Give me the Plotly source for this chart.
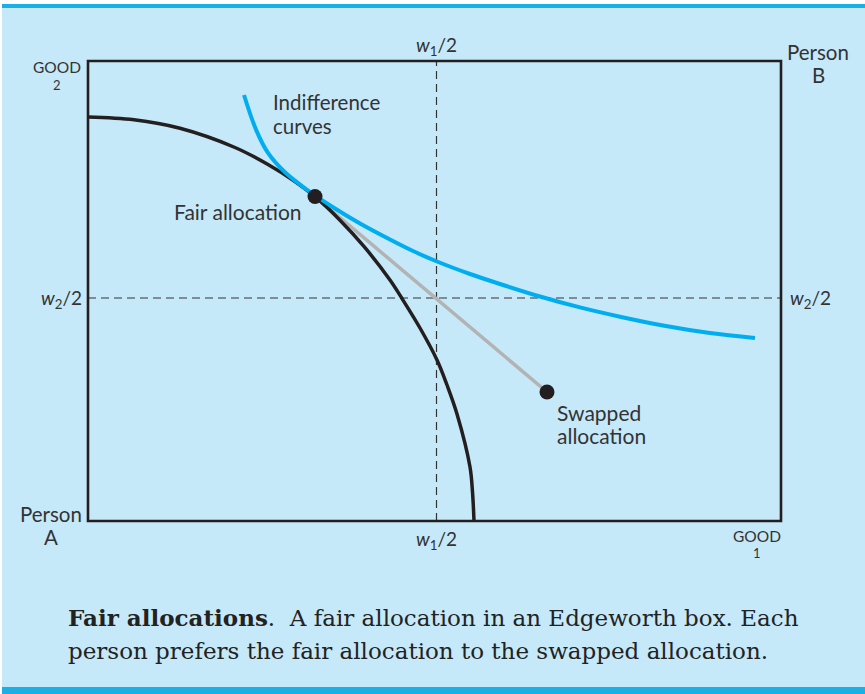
import plotly.graph_objects as go

# Box geometry in pixel-like data units (x: 0..693, y: 0..460)
box_w = 693
box_h = 460

# Person A's curve (black)
black_x = [0, 46, 92, 147, 180, 207, 227, 252, 277, 302, 314, 332, 349, 359, 369, 382, 384.5, 386]
black_y = [404, 401.2, 392.7, 373.5, 356.5, 339.5, 324.3, 300.8, 273.3, 241, 222.5, 193, 161, 136, 107, 54, 29, 0]

# Indifference curve (blue)
blue_x = [156, 168, 180, 197, 218, 247, 272, 302, 325, 349, 382, 412, 452, 492, 532, 575, 622, 667]
blue_y = [426, 391.4, 368.1, 348.7, 332, 312.5, 297.5, 281.5, 270.0, 259.5, 247, 237, 224.5,
          213.6, 204.3, 195.5, 188, 183]

# Allocations
fair = (227, 324.5)
swapped = (459, 129)

# Half endowments
w1_half = 348.5
w2_half = 223

BG = "#c6e9f9"
INK = "#231f20"
BLUE = "#00aeef"
TEXT = "#333333"
SANS = "Lato"

L, T = 88, 61
W, H = 865, 694


def px(xp):
    return (xp - L) / box_w


def py(yp):
    return (T + box_h - yp) / box_h


fig = go.Figure()

# dashed half-endowment lines
fig.add_trace(go.Scatter(x=[w1_half, w1_half], y=[0, box_h], mode="lines",
                         line=dict(color=TEXT, width=1.2, dash="8px,5px"), hoverinfo="skip"))
fig.add_trace(go.Scatter(x=[0, box_w], y=[w2_half, w2_half], mode="lines",
                         line=dict(color=TEXT, width=1.2, dash="8px,5px"), hoverinfo="skip"))
# gray line between allocations
fig.add_trace(go.Scatter(x=[fair[0], swapped[0]], y=[fair[1], swapped[1]], mode="lines",
                         line=dict(color="#b3b3b3", width=3.5), hoverinfo="skip"))
# curves
fig.add_trace(go.Scatter(x=black_x, y=black_y, mode="lines", line_shape="spline",
                         line=dict(color=INK, width=3.5, smoothing=1.0), hoverinfo="skip"))
fig.add_trace(go.Scatter(x=blue_x, y=blue_y, mode="lines", line_shape="spline",
                         line=dict(color=BLUE, width=4, smoothing=1.0), hoverinfo="skip"))
# dots
fig.add_trace(go.Scatter(x=[fair[0], swapped[0]], y=[fair[1], swapped[1]], mode="markers",
                         marker=dict(color=INK, size=15), hoverinfo="skip", cliponaxis=False))

shapes = [
    # white top strip and left strip
    dict(type="rect", xref="paper", yref="paper", x0=px(0), x1=px(W), y0=py(0), y1=py(4),
         fillcolor="white", line_width=0, layer="below"),
    dict(type="rect", xref="paper", yref="paper", x0=px(0), x1=px(2), y0=py(0), y1=py(H),
         fillcolor="white", line_width=0, layer="below"),
    # blue border lines
    dict(type="rect", xref="paper", yref="paper", x0=px(2), x1=px(W), y0=py(4), y1=py(8),
         fillcolor="#1ab0e6", line_width=0, layer="below"),
    dict(type="rect", xref="paper", yref="paper", x0=px(2), x1=px(W), y0=py(687), y1=py(H + 2),
         fillcolor="#1ab0e6", line_width=0, layer="below"),
    # Edgeworth box
    dict(type="rect", xref="paper", yref="paper", x0=0, x1=1, y0=0, y1=1,
         line=dict(color=INK, width=2.6), fillcolor="rgba(0,0,0,0)", layer="above"),
]


def ann(text, xp, yp, size=21, xanchor="center", family=SANS, color=TEXT):
    return dict(text=text, xref="paper", yref="paper", x=px(xp), y=py(yp),
                xanchor=xanchor, yanchor="middle", showarrow=False,
                font=dict(family=family, size=size, color=color))


w1 = "<i>w</i><sub>1</sub>/2"
w2 = "<i>w</i><sub>2</sub>/2"

annotations = [
    ann("GOOD", 57, 67, 15.5), ann("2", 57, 84.5, 13),
    ann("Person", 818, 52, 20.5), ann("B", 818, 75, 20.5),
    ann("Person", 51, 514, 20.5), ann("A", 51, 537, 20.5),
    ann("GOOD", 757, 535.5, 15.5), ann("1", 757, 553, 13),
    ann(w1, 436, 46, 19), ann(w1, 436, 540, 19),
    ann(w2, 84, 299, 19, xanchor="right"), ann(w2, 788, 299, 19, xanchor="left"),
    ann("Indifference", 271, 102, 20.5, xanchor="left"),
    ann("curves", 271, 125.5, 20.5, xanchor="left"),
    ann("Fair allocation", 304, 211, 21, xanchor="right"),
    ann("Swapped", 555, 412, 21, xanchor="left"),
    ann("allocation", 555, 435, 21, xanchor="left"),
    ann("<b>Fair allocations</b>.  A fair allocation in an Edgeworth box. Each",
        66, 617, 23, xanchor="left", family="DejaVu Serif", color="#222222"),
    ann("person prefers the fair allocation to the swapped allocation.",
        66, 651, 23, xanchor="left", family="DejaVu Serif", color="#222222"),
]

fig.update_layout(
    width=W, height=H,
    margin=dict(l=L, r=W - L - box_w, t=T, b=H - T - box_h, pad=0),
    paper_bgcolor=BG, plot_bgcolor=BG,
    showlegend=False,
    xaxis=dict(range=[0, box_w], visible=False, fixedrange=True),
    yaxis=dict(range=[0, box_h], visible=False, fixedrange=True),
    shapes=shapes, annotations=annotations,
)

fig.write_html("out.html", config={"displayModeBar": False},
               post_script="document.body.style.margin='0';document.body.style.padding='0';")
